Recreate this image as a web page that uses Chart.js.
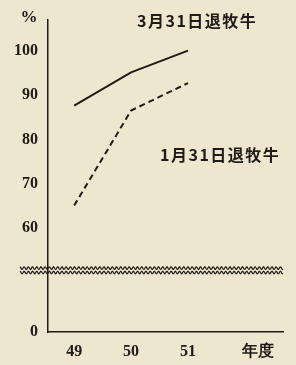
<!DOCTYPE html>
<html>
<head>
<meta charset="utf-8">
<script src="https://cdn.jsdelivr.net/npm/chart.js@4"></script>
<style>
  html, body { margin: 0; padding: 0; background: #efe6cf; }
  canvas { display: block; }
</style>
</head>
<body>
<canvas id="myChart" width="296" height="365"></canvas>
<script>
// data
const years = [49, 50, 51];
const mar31Values = [87.6, 95.1, 100];
const jan31Values = [65.1, 86.5, 92.7];

// y axis is broken: "0" sits at the bottom, under the wave
const yBottom = 36.6;
const yBreak = 50.5;
const yTickValues = [yBottom, 60, 70, 80, 90, 100];
const yTickLabels = ["0", "60", "70", "80", "90", "100"];
const xTickValues = [49, 50, 51, 52.23];
const xTickLabels = ["49", "50", "51", "年度"];

const ink = "#1f1b17";
const numFont = { family: "'Liberation Serif', serif", size: 16, weight: "bold" };
const jpFont = "bold 16px 'Noto Sans CJK JP', sans-serif";

function toPoints(xs, ys) {
  return xs.map((x, i) => ({ x: x, y: ys[i] }));
}

// paper, wave break, labels
const decor = {
  id: "decor",
  beforeDraw(chart) {
    const c = chart.ctx;
    c.save();
    c.fillStyle = "#efe6cf";
    c.fillRect(0, 0, chart.width, chart.height);
    c.restore();
  },
  afterDraw(chart) {
    const c = chart.ctx;
    const ys = chart.scales.y;
    const area = chart.chartArea;
    c.save();

    // wavy break line (two)
    const wy = ys.getPixelForValue(yBreak);
    c.strokeStyle = ink;
    c.lineWidth = 1.2;
    [-2.2, 2.2].forEach((off) => {
      c.beginPath();
      for (let x = 20; x <= area.right; x += 0.5) {
        const y = wy + off + 1.3 * Math.sin((x / 4.2) * Math.PI * 2);
        if (x === 20) c.moveTo(x, y);
        else c.lineTo(x, y);
      }
      c.stroke();
    });

    c.fillStyle = ink;
    c.font = "bold 17px 'Liberation Serif', serif";
    c.textAlign = "center";
    c.textBaseline = "middle";
    c.fillText("%", 29, 18);

    c.font = jpFont;
    c.letterSpacing = "1.5px";
    c.textAlign = "left";
    c.fillText("3月31日退牧牛", 137, 21);
    c.fillText("1月31日退牧牛", 160, 155);
    c.restore();
  },
};

new Chart(document.getElementById("myChart"), {
  type: "line",
  data: {
    datasets: [
      {
        label: "3月31日退牧牛",
        data: toPoints(years, mar31Values),
        borderColor: ink,
        borderWidth: 2,
        pointRadius: 0,
        tension: 0,
      },
      {
        label: "1月31日退牧牛",
        data: toPoints(years, jan31Values),
        borderColor: ink,
        borderWidth: 2,
        borderDash: [6, 4],
        pointRadius: 0,
        tension: 0,
      },
    ],
  },
  options: {
    responsive: false,
    animation: false,
    layout: { padding: { top: 12, right: 13, left: 0, bottom: 0 } },
    plugins: { legend: { display: false }, tooltip: { enabled: false } },
    scales: {
      x: {
        type: "linear",
        min: 48.54,
        max: 52.67,
        grid: { display: false, drawTicks: false },
        border: { display: true, color: ink, width: 1.5 },
        afterBuildTicks: (s) => {
          s.ticks = xTickValues.map((v) => ({ value: v }));
        },
        afterFit: (s) => {
          s.height = 33;
        },
        ticks: {
          autoSkip: false,
          maxRotation: 0,
          padding: 10,
          color: ink,
          font: numFont,
          callback: (v, i) => xTickLabels[i],
        },
      },
      y: {
        min: yBottom,
        max: 107,
        grid: { display: false, drawTicks: false },
        border: { display: true, color: ink, width: 1.5 },
        afterBuildTicks: (s) => {
          s.ticks = yTickValues.map((v) => ({ value: v }));
        },
        afterFit: (s) => {
          s.width = 48;
        },
        ticks: {
          autoSkip: false,
          padding: 10,
          color: ink,
          font: numFont,
          callback: (v, i) => yTickLabels[i],
        },
      },
    },
  },
  plugins: [decor],
});
</script>
</body>
</html>
